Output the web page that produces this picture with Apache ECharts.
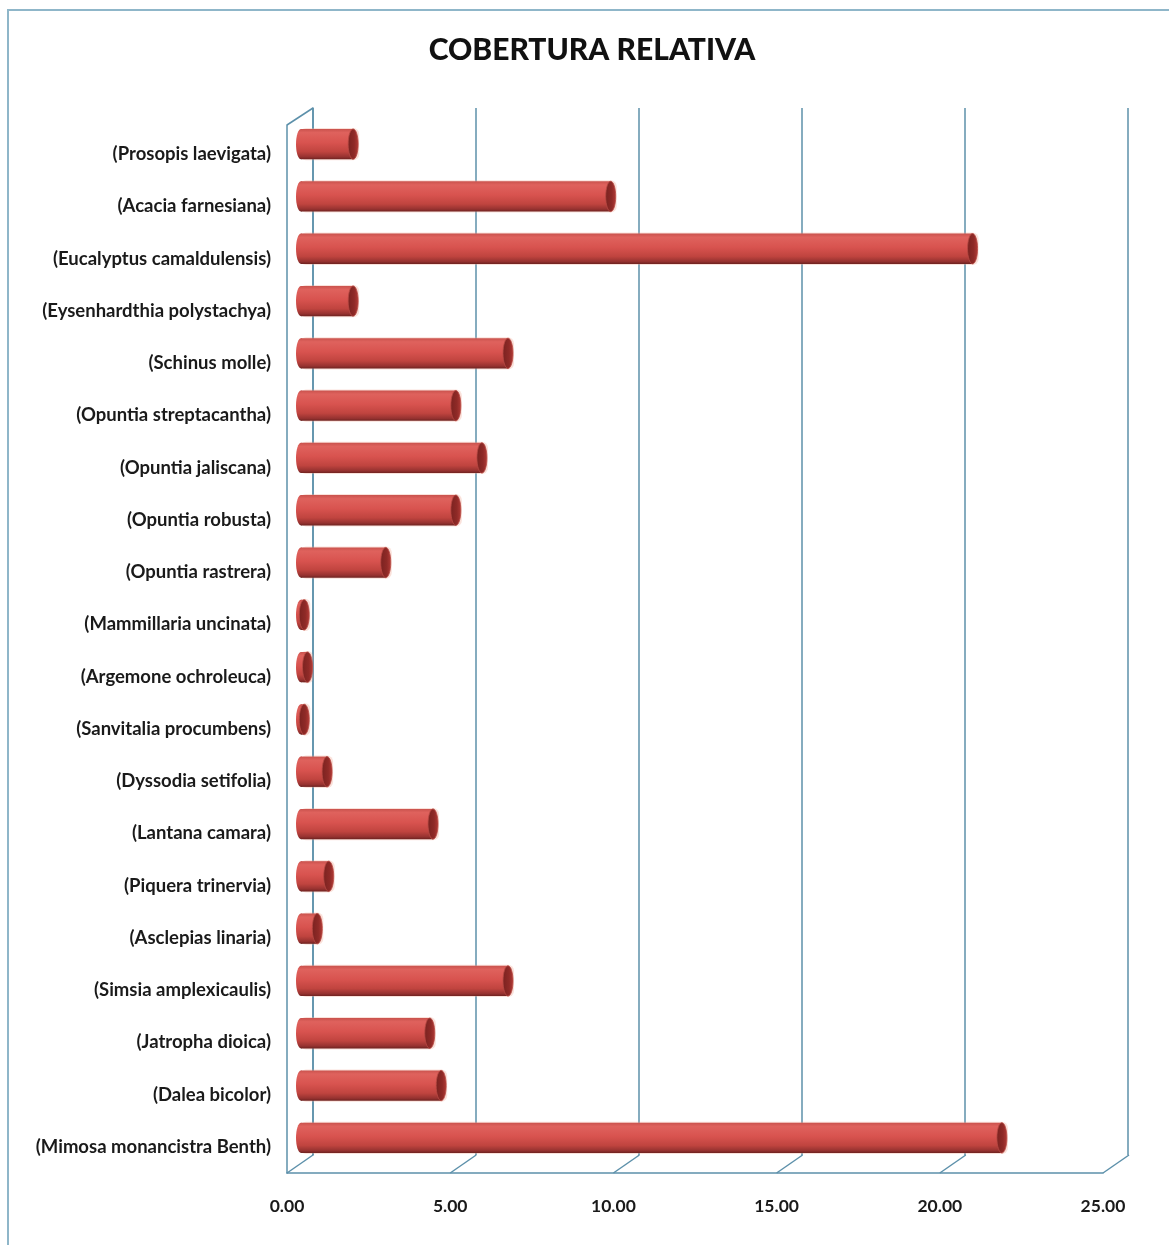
<!DOCTYPE html>
<html>
<head>
<meta charset="utf-8">
<script src="https://cdn.jsdelivr.net/npm/echarts@6/dist/echarts.min.js"></script>
<style>html,body{margin:0;padding:0;background:#fff}#c{width:1169px;height:1245px}</style>
</head>
<body>
<div id="c"></div>
<script>
const categories = [
  '(Prosopis laevigata)',
  '(Acacia farnesiana)',
  '(Eucalyptus camaldulensis)',
  '(Eysenhardthia polystachya)',
  '(Schinus molle)',
  '(Opuntia streptacantha)',
  '(Opuntia jaliscana)',
  '(Opuntia robusta)',
  '(Opuntia rastrera)',
  '(Mammillaria uncinata)',
  '(Argemone ochroleuca)',
  '(Sanvitalia procumbens)',
  '(Dyssodia setifolia)',
  '(Lantana camara)',
  '(Piquera trinervia)',
  '(Asclepias linaria)',
  '(Simsia amplexicaulis)',
  '(Jatropha dioica)',
  '(Dalea bicolor)',
  '(Mimosa monancistra Benth)'
];
const coberturaValues = [1.6, 9.5, 20.6, 1.6, 6.35, 4.75, 5.55, 4.75, 2.6, 0.1, 0.2, 0.1, 0.8, 4.05, 0.85, 0.5, 6.35, 3.95, 4.3, 21.5];
const xTicks = [0, 5, 10, 15, 20, 25];

const DEPTH_X = 26, DEPTH_Y = 18;
const frameColor = '#5c90aa';

const chart = echarts.init(document.getElementById('c'));

const barGrad = new echarts.graphic.LinearGradient(0, 0, 0, 1, [
  {offset: 0, color: '#c9524d'},
  {offset: 0.12, color: '#df625d'},
  {offset: 0.45, color: '#d8534f'},
  {offset: 0.75, color: '#c0443f'},
  {offset: 0.92, color: '#963230'},
  {offset: 1, color: '#6e2220'}
]);
const capGrad = new echarts.graphic.LinearGradient(0, 0, 1, 0, [
  {offset: 0, color: '#7a2220'},
  {offset: 0.6, color: '#8f2a27'},
  {offset: 1, color: '#b33b37'}
]);

chart.setOption({
  animation: false,
  backgroundColor: '#fff',
  title: {
    text: 'COBERTURA RELATIVA',
    left: 587, top: 30, textAlign: 'center',
    textStyle: {fontFamily: 'Lato', fontWeight: 900, fontSize: 30, color: '#111'}
  },
  graphic: [{
    type: 'rect', silent: true,
    shape: {x: 8, y: 10, width: 1300, height: 1400},
    style: {fill: 'none', stroke: '#8fb6c9', lineWidth: 2}
  }],
  grid: [
    {left: 313, right: 41, top: 108, bottom: 90},
    {left: 287, right: 66, top: 125, bottom: 72},
    {left: 301, right: 53, top: 118, bottom: 81},
    {left: 287, right: 66, top: 128, bottom: 72}
  ],
  xAxis: [
    {gridIndex: 0, type: 'value', min: 0, max: 25, interval: 5,
     axisLine: {show: false}, axisTick: {show: false}, axisLabel: {show: false},
     splitLine: {show: true, lineStyle: {color: frameColor, width: 1.5}}},
    {gridIndex: 1, type: 'value', min: 0, max: 25, interval: 5,
     axisLine: {show: true, lineStyle: {color: frameColor, width: 1.5}},
     axisTick: {show: false}, splitLine: {show: false},
     axisLabel: {margin: 24, formatter: v => v.toFixed(2),
       fontFamily: 'Lato', fontWeight: 'bold', fontSize: 17.5, color: '#1a1a1a'}},
    {gridIndex: 2, type: 'value', min: 0, max: 25, interval: 5, show: false},
    {gridIndex: 3, type: 'value', min: 0, max: 25, interval: 5, show: false}
  ],
  yAxis: [
    {gridIndex: 0, type: 'value', min: 0, max: 1, show: true,
     axisLine: {show: true, lineStyle: {color: frameColor, width: 1.5}},
     axisTick: {show: false}, axisLabel: {show: false}, splitLine: {show: false}},
    {gridIndex: 1, type: 'category', inverse: true, data: categories,
     axisLine: {show: true, lineStyle: {color: frameColor, width: 1.5}},
     axisTick: {show: false}, splitLine: {show: false}, axisLabel: {show: false}},
    {gridIndex: 2, type: 'category', inverse: true, data: categories, show: false},
    {gridIndex: 3, type: 'category', inverse: true, data: categories,
     axisLine: {show: false}, axisTick: {show: false}, splitLine: {show: false},
     axisLabel: {margin: 16, fontFamily: 'Lato', fontWeight: 'bold', fontSize: 18.5, color: '#1a1a1a'}}
  ],
  series: [
    {
      type: 'custom', xAxisIndex: 1, yAxisIndex: 1, silent: true, z: 1,
      data: xTicks.map(t => [t]),
      encode: {x: 0},
      renderItem: function (params, api) {
        const cs = params.coordSys;
        const x = api.coord([api.value(0), 0])[0];
        const yb = cs.y + cs.height;
        const children = [{
          type: 'line',
          shape: {x1: x, y1: yb, x2: x + DEPTH_X, y2: yb - DEPTH_Y},
          style: {stroke: frameColor, lineWidth: 1.5}
        }];
        if (params.dataIndex === 0) {
          children.push({
            type: 'line',
            shape: {x1: x, y1: cs.y, x2: x + DEPTH_X, y2: cs.y - DEPTH_Y + 1},
            style: {stroke: frameColor, lineWidth: 1.5}
          });
        }
        return {type: 'group', children: children};
      }
    },
    {
      type: 'custom', xAxisIndex: 2, yAxisIndex: 2, z: 5,
      data: coberturaValues.map((v, i) => [v, i]),
      encode: {x: 0, y: 1},
      renderItem: function (params, api) {
        const v = api.value(0), c = api.value(1);
        const s = api.coord([0, c]);
        const e = api.coord([v, c]);
        const h = api.size([0, 1])[1] * 0.58;
        const rx = 5;
        const y0 = s[1] - h / 2;
        return {
          type: 'group',
          children: [
            {type: 'rect', shape: {x: s[0] - 1, y: y0 - 1, width: e[0] - s[0] + rx + 2, height: h + 2, r: [rx + 1]},
             style: {fill: 'rgba(240,170,150,0.35)'}},
            {type: 'ellipse', shape: {cx: s[0], cy: s[1], rx: rx, ry: h / 2}, style: {fill: barGrad}},
            {type: 'rect', shape: {x: s[0], y: y0, width: Math.max(e[0] - s[0], 0), height: h}, style: {fill: barGrad}},
            {type: 'ellipse', shape: {cx: e[0], cy: e[1], rx: rx, ry: h / 2},
             style: {fill: capGrad, stroke: '#b84a44', lineWidth: 0.8}}
          ]
        };
      }
    }
  ]
});
</script>
</body>
</html>
